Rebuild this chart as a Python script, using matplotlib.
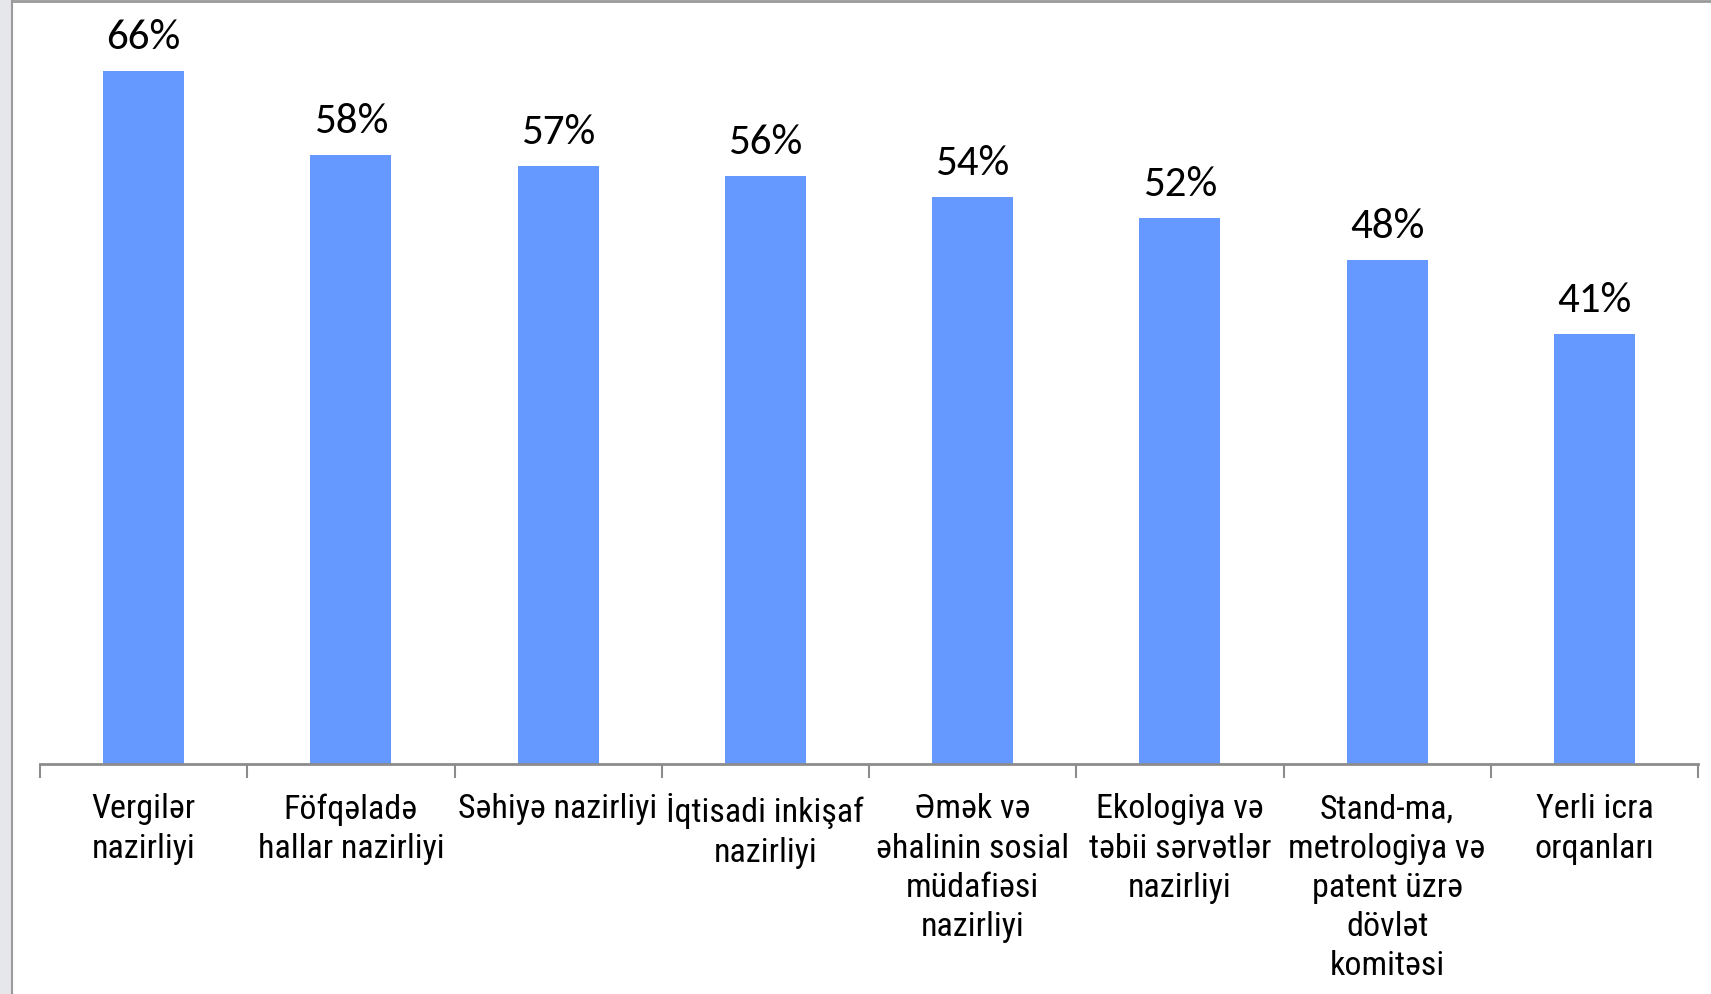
import matplotlib
matplotlib.use("Agg")
import matplotlib.pyplot as plt
from matplotlib.patches import Rectangle

categories = [
    "Vergilər\nnazirliyi",
    "Föfqəladə\nhallar nazirliyi",
    "Səhiyə nazirliyi",
    "İqtisadi inkişaf\nnazirliyi",
    "Əmək və\nəhalinin sosial\nmüdafiəsi\nnazirliyi",
    "Ekologiya və\ntəbii sərvətlər\nnazirliyi",
    "Stand-ma,\nmetrologiya və\npatent üzrə\ndövlət\nkomitəsi",
    "Yerli icra\norqanları",
]
values = [66, 58, 57, 56, 54, 52, 48, 41]
value_labels = ["66%", "58%", "57%", "56%", "54%", "52%", "48%", "41%"]

W, H = 1711, 995
fig = plt.figure(figsize=(W / 100, H / 100), dpi=100)

# window-like frame: grey strip on the left, thin border lines
fig.patches.append(Rectangle((0, 0), 11 / W, 1, transform=fig.transFigure,
                             facecolor="#e6e7ea", edgecolor="none", zorder=0))
fig.lines.append(plt.Line2D([11.5 / W, 11.5 / W], [0, 1 - 1.5 / H], transform=fig.transFigure,
                            color="#9a9a9a", lw=1.5))
fig.lines.append(plt.Line2D([11.5 / W, 1], [1 - 1.5 / H, 1 - 1.5 / H], transform=fig.transFigure,
                            color="#9a9a9a", lw=2))

ax_left, ax_right = 40 / W, 1698 / W
ax_bottom, ax_top = 1 - 765 / H, 1 - 4 / H
ax = fig.add_axes([ax_left, ax_bottom, ax_right - ax_left, ax_top - ax_bottom])

x = list(range(len(values)))
bars = ax.bar(x, values, width=0.39, color="#6699ff", zorder=2)

for xi, v, lab in zip(x, values, value_labels):
    ax.annotate(lab, (xi, v), xytext=(0, 16.5), textcoords="offset points",
                ha="center", va="baseline", fontsize=31,
                family=["Carlito", "Lato", "DejaVu Sans"], color="black")

ax.set_xlim(-0.5, len(values) - 0.5)
ax.set_ylim(0, 761 / 10.5)

for s in ["top", "right", "left"]:
    ax.spines[s].set_visible(False)
ax.spines["bottom"].set_color("#8c8c8c")
ax.spines["bottom"].set_linewidth(2)
ax.set_yticks([])

ax.set_xticks([i - 0.5 for i in range(len(values) + 1)])
ax.set_xticklabels([])
ax.tick_params(axis="x", length=10, width=1.5, color="#8c8c8c")

for xi, cat in zip(x, categories):
    ax.annotate(cat, (xi, 0), xytext=(0, -20.5), textcoords="offset points",
                ha="center", va="top", fontsize=24.5, linespacing=1.29,
                family=["Roboto Condensed", "PT Sans Narrow", "DejaVu Sans"], color="black",
                annotation_clip=False)

fig.savefig("out.png", dpi=100)
